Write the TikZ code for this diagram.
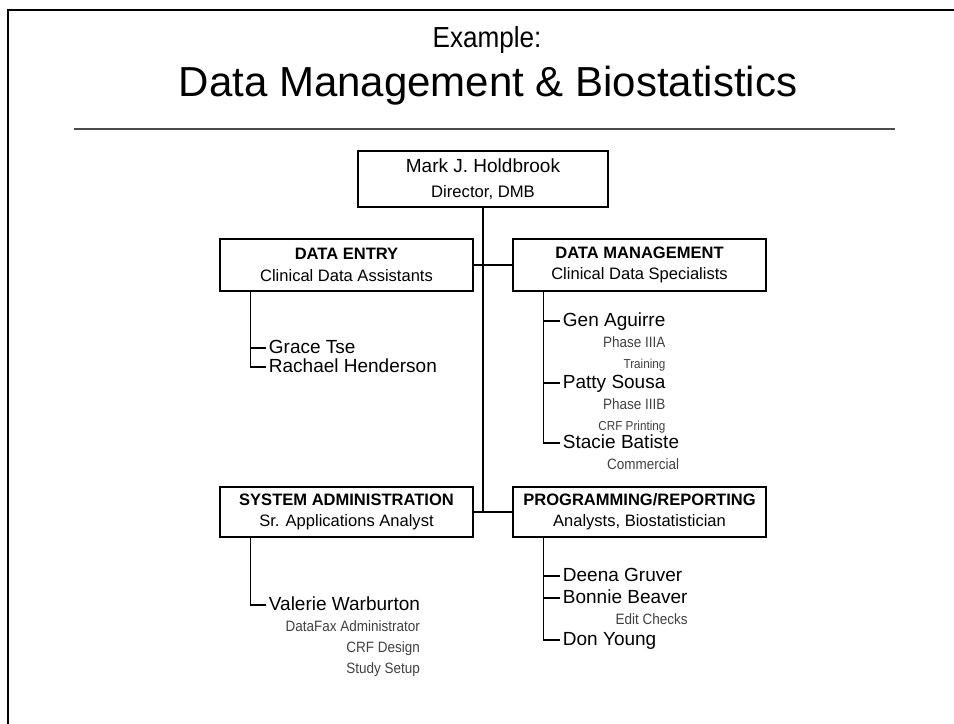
\documentclass[tikz,border=0pt]{standalone}
\usepackage{fontspec}
\setmainfont{Liberation Sans}
\newfontfamily\narrowsf[FakeStretch=0.9]{Liberation Sans}
\usetikzlibrary{positioning}
\newcommand{\boxfont}{\fontsize{12.4}{16}\selectfont}
\newcommand{\namefont}{\fontsize{14.25}{16}\selectfont}
\newcommand{\dutyfont}{\narrowsf\fontsize{11.25}{13}\selectfont}
\newcommand{\smalldutyfont}{\narrowsf\fontsize{9.75}{11}\selectfont}

\begin{document}
\begin{tikzpicture}[x=0.75pt,y=-0.75pt,
  unit/.style={draw, line width=0.9pt, align=center, minimum width=189.75pt,
    minimum height=39pt, font=\boxfont},
  person/.style={anchor=west, inner sep=2pt, text height=10.5pt, text depth=3pt, font=\namefont},
  duty/.style={anchor=north east, inner xsep=2pt, inner ysep=2.5pt, text height=8.1pt,
    text depth=2.3pt, text=black!75, font=\dutyfont},
  link/.style={line width=1.1pt}]
\useasboundingbox (0,0) rectangle (954,724);
% slide frame and heading
\draw[line width=2pt] (8,724) -- (8,10) -- (954,10);
\node (example) at (487,40) {\narrowsf\fontsize{21.75}{24}\selectfont Example:};
\node (title) at (488,86) {\fontsize{31.5}{34}\selectfont Data Management \& Biostatistics};
\draw[line width=1.2pt, black!70] (74,129) -- (895,129);

% units
\node[unit, minimum width=187.5pt, minimum height=42pt, font=\fontsize{12.5}{19}\selectfont]
  (director) at (483,179) {{\namefont Mark J. Holdbrook}\\Director, DMB};
\node[unit] (entry) at (346.5,265) {\textbf{DATA ENTRY}\\Clinical Data Assistants};
\node[unit] (mgmt) at (639.5,265) {\textbf{DATA MANAGEMENT}\\Clinical Data Specialists};
\node[unit, minimum height=37.5pt] (sysadm) at (346.5,512) {\textbf{SYSTEM ADMINISTRATION}\\Sr. Applications Analyst};
\node[unit, minimum height=37.5pt] (prog) at (639.5,512) {\textbf{PROGRAMMING/REPORTING}\\Analysts, Biostatistician};

\coordinate (trunkend) at (director.south |- sysadm.east);
\draw[line width=1.5pt] (director.south) -- (trunkend);
\draw[link] (entry.east) -- (mgmt.west);
\draw[link] (sysadm.east) -- (prog.west);

% data entry staff
\coordinate (entryline) at ([xshift=23.25pt]entry.south west);
\node[person] (grace) at (266,348) {Grace Tse};
\node[person] (rachael) at (266,367) {Rachael Henderson};
\draw[link] (entryline |- grace.west) -- (grace.west);
\draw[link] (entryline) |- (rachael.west);

% data management staff
\coordinate (mgmtline) at ([xshift=23.25pt]mgmt.south west);
\node[person] (gen) at (560,321) {Gen Aguirre};
\node[duty] (phasea) at (gen.south east) {Phase IIIA};
\node[duty, font=\smalldutyfont] (training) at (phasea.south east) {Training};
\node[person] (patty) at (560,383) {Patty Sousa};
\node[duty] (phaseb) at (patty.south east) {Phase IIIB};
\node[duty, font=\smalldutyfont] (printing) at (phaseb.south east) {CRF Printing};
\node[person] (stacie) at (560,443) {Stacie Batiste};
\node[duty] (commercial) at (stacie.south east) {Commercial};
\draw[link] (mgmtline |- gen.west) -- (gen.west);
\draw[link] (mgmtline |- patty.west) -- (patty.west);
\draw[link] (mgmtline) |- (stacie.west);

% system administration staff
\coordinate (sysline) at ([xshift=23.25pt]sysadm.south west);
\node[person] (valerie) at (266,605) {Valerie Warburton};
\node[duty] (datafax) at (valerie.south east) {DataFax Administrator};
\node[duty] (design) at (datafax.south east) {CRF Design};
\node[duty] (setup) at (design.south east) {Study Setup};
\draw[link] (sysline) |- (valerie.west);

% programming staff
\coordinate (progline) at ([xshift=23.25pt]prog.south west);
\node[person] (deena) at (560,576) {Deena Gruver};
\node[person] (bonnie) at (560,598) {Bonnie Beaver};
\node[duty] (checks) at (bonnie.south east) {Edit Checks};
\node[person] (don) at (560,640) {Don Young};
\draw[link] (progline |- deena.west) -- (deena.west);
\draw[link] (progline |- bonnie.west) -- (bonnie.west);
\draw[link] (progline) |- (don.west);
\end{tikzpicture}
\end{document}
